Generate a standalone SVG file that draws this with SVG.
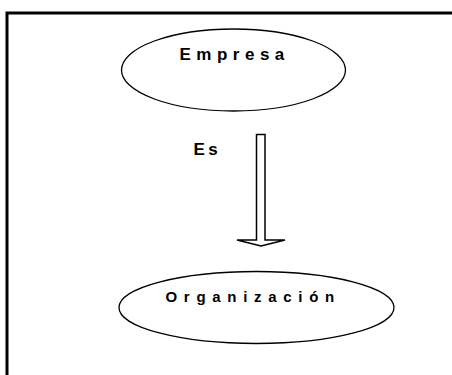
<svg xmlns="http://www.w3.org/2000/svg" width="452" height="375" viewBox="0 0 452 375">
<style>
.node{fill:#fff;stroke:#000;stroke-width:1.3}
.lbl{font-family:"Liberation Sans",Arial,sans-serif;font-weight:bold;fill:#000}
.frame{stroke:#000;stroke-width:3;fill:none}
</style>
<rect width="452" height="375" fill="#fff"/>
<g id="frame">
<path class="frame" d="M5.5 13 H452 M7 11.5 V375"/>
</g>
<g id="connectors">
<polygon points="256.5,134.5 265,134.5 265,240 285,240 261,246 237,240 256.5,240" fill="#fff" stroke="#000" stroke-width="1.5"/>
<text class="lbl" x="193.5" y="155" font-size="17" letter-spacing="3.5">Es</text>
</g>
<g id="empresa">
<ellipse class="node" cx="233.5" cy="70" rx="112" ry="41"/>
<text class="lbl" x="179.5" y="60" font-size="17" letter-spacing="5.5">Empresa</text>
</g>
<g id="organizacion">
<ellipse class="node" cx="256.5" cy="307.5" rx="137.5" ry="36"/>
<text class="lbl" x="165.5" y="302" font-size="15" letter-spacing="6.7">Organización</text>
</g>
</svg>
